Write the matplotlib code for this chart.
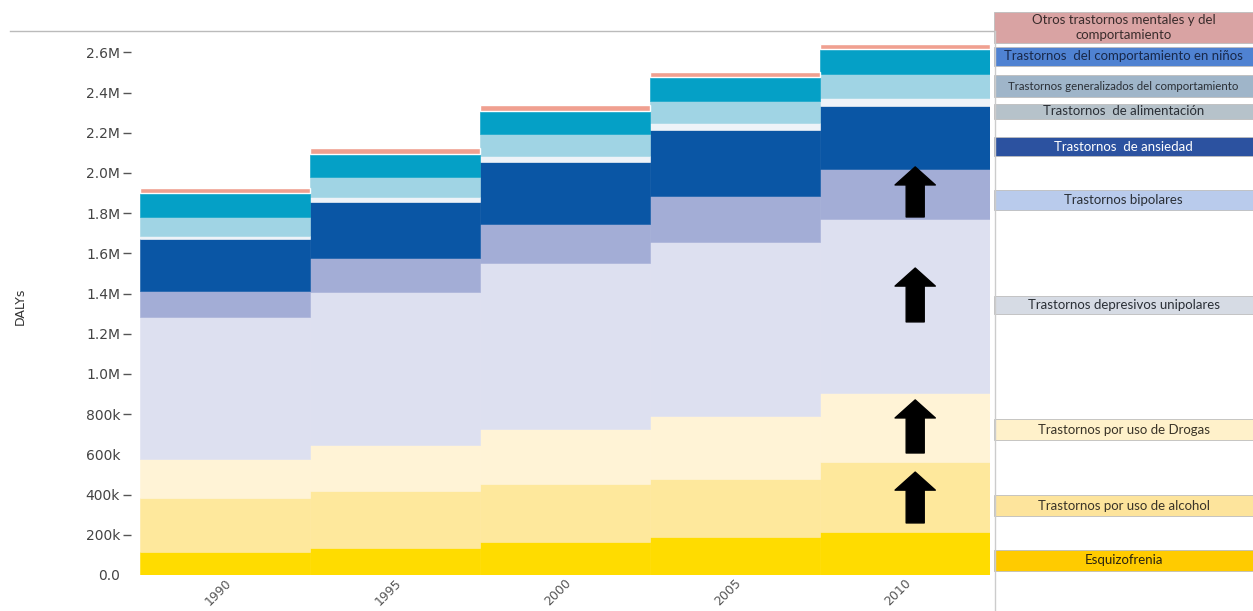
import matplotlib
matplotlib.use("Agg")
import matplotlib.pyplot as plt
from matplotlib.patches import Rectangle
from matplotlib.lines import Line2D
import numpy as np

# DALYs por trastorno mental (valores en miles), apilados de abajo hacia arriba
years = ["1990", "1995", "2000", "2005", "2010"]

esquizofrenia = [116, 136, 163, 191, 215]
alcohol = [266, 282, 289, 287, 348]
drogas = [196, 229, 275, 315, 340]
depresivos = [706, 763, 824, 861, 867]
bipolares = [131, 166, 196, 229, 252]
ansiedad = [257, 280, 307, 332, 311]
alimentacion = [16, 26, 31, 33, 40]
generalizados = [95, 100, 108, 112, 118]
ninos = [116, 113, 117, 119, 123]
otros = [26, 28, 28, 25, 26]

layers = [esquizofrenia, alcohol, drogas, depresivos, bipolares,
          ansiedad, alimentacion, generalizados, ninos, otros]
layer_colors = ["#ffdc00", "#fee89c", "#fff3d6", "#dde0f0", "#a3add6",
                "#0a56a5", "#eef3f8", "#a0d4e4", "#05a0c6", "#f0a090"]

# entradas de la leyenda (de arriba hacia abajo)
legend_labels = ["Otros trastornos mentales y del\ncomportamiento",
                 "Trastornos  del comportamiento en niños",
                 "Trastornos generalizados del comportamiento",
                 "Trastornos  de alimentación",
                 "Trastornos  de ansiedad",
                 "Trastornos bipolares",
                 "Trastornos depresivos unipolares",
                 "Trastornos por uso de Drogas",
                 "Trastornos por uso de alcohol",
                 "Esquizofrenia"]
legend_colors = ["#d9a3a3", "#4f82d2", "#9fb5c9", "#b6c2ca", "#2c52a0",
                 "#b9cbec", "#d6dbe4", "#fff1ca", "#fde49c", "#ffcb00"]
legend_text_colors = ["#3a2c2c", "#18284a", "#2a2f36", "#2a2f36", "white",
                      "#2a2f36", "#2a2f36", "#3a3428", "#3a3428", "#2a2410"]
legend_fontsize = [9.5, 9.5, 8.3, 9.5, 9.5, 9.5, 9.5, 9.5, 9.5, 9.5]
# cajas: (y superior, y inferior) en pixeles
legend_boxes = [(12, 43), (47, 66), (75, 97), (104, 119), (137, 156),
                (190, 210), (296, 314), (419, 440), (495, 516), (550, 571)]

yticks = [0, 200, 400, 600, 800, 1000, 1200, 1400, 1600, 1800, 2000,
          2200, 2400, 2600]
ytick_labels = ["0.0", "200k", "400k", "600k", "800k", "1.0M", "1.2M",
                "1.4M", "1.6M", "1.8M", "2.0M", "2.2M", "2.4M", "2.6M"]

# flechas de aumento en 2010: (base, punta)
arrows = [(1781, 2030), (1259, 1527), (607, 871), (259, 512)]

W, H = 1253, 611
fig = plt.figure(figsize=(W / 100, H / 100), dpi=100)
ax = fig.add_axes([140 / W, 36 / H, 850 / W, 544 / H])

x = np.arange(len(years))
bottom = np.zeros(len(years))
for vals, col in zip(layers, layer_colors):
    ax.bar(x, vals, bottom=bottom, width=1.0, color=col,
           edgecolor=col, linewidth=0.4)
    bottom += np.array(vals)

# separador blanco entre "otros" y la capa de niños
ax.bar(x, otros, bottom=bottom - np.array(otros), width=1.0,
       color="none", edgecolor="white", linewidth=1.0)

ax.set_xlim(-0.5, len(years) - 0.5)
ax.set_ylim(0, 2706)

for s in ["top", "right", "bottom", "left"]:
    ax.spines[s].set_visible(False)
ax.spines["left"].set_position(("outward", 6.5))

ax.set_yticks(yticks)
ax.set_yticklabels(ytick_labels, fontsize=10, color="#444444")
ax.tick_params(axis="y", length=5.8, width=1.0, color="#555555", pad=2)
for t, lab in zip(ax.yaxis.get_major_ticks(), ytick_labels):
    if lab in ("0.0", "600k"):
        t.tick1line.set_visible(False)

ax.set_xticks(x)
ax.set_xticklabels(years, rotation=45, ha="right", va="top",
                   rotation_mode="anchor", fontsize=9, color="#555555")
ax.tick_params(axis="x", length=0, pad=1)

fig.text(20 / W, 1 - 306 / H, "DALYs", rotation=90, fontsize=9,
         ha="center", va="center", color="#333333")

for base, tip in arrows:
    ax.annotate("", xy=(4.06, tip), xytext=(4.06, base),
                arrowprops=dict(arrowstyle="simple,head_length=1.3,head_width=2.9,tail_width=1.3",
                                mutation_scale=10, color="black",
                                shrinkA=0, shrinkB=0))

# linea superior y borde de la leyenda
fig.add_artist(Line2D([10 / W, 995 / W], [1 - 31 / H, 1 - 31 / H],
                      color="#bbbbbb", linewidth=1))
fig.add_artist(Line2D([995 / W, 995 / W], [1 - 31 / H, 0],
                      color="#cccccc", linewidth=1))

for lab, fc, tc, fs, (y0, y1) in zip(legend_labels, legend_colors,
                                     legend_text_colors, legend_fontsize,
                                     legend_boxes):
    fig.add_artist(Rectangle((994 / W, 1 - y1 / H), (W - 994) / W,
                             (y1 - y0) / H, facecolor=fc,
                             edgecolor="#bdbdbd", linewidth=0.6))
    fig.text((994 + W) / 2 / W, 1 - (y0 + y1) / 2 / H, lab,
             ha="center", va="center", fontsize=fs, color=tc,
             family="Lato", linespacing=1.35)

fig.savefig("out.png", dpi=100)
